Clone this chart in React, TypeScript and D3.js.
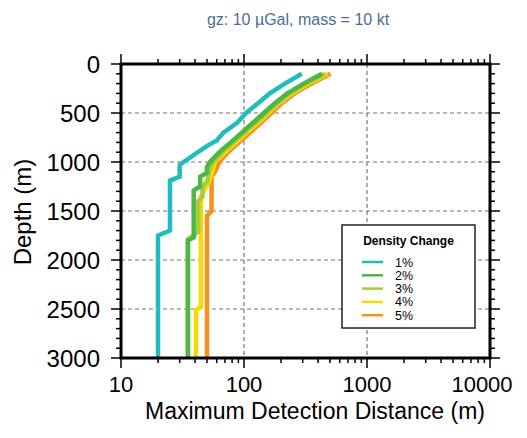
import React from "react";
import * as d3 from "d3";

const title = "gz: 10 \u00b5Gal, mass = 10 kt";
const xTicks = [10, 100, 1000, 10000];
const yTicks = [0, 500, 1000, 1500, 2000, 2500, 3000];
const xGrid = [100, 1000];
const yGrid = [500, 1000, 1500, 2000, 2500];
const seriesNames = ["1%", "2%", "3%", "4%", "5%"];
const seriesColors = ["#22bcc0", "#4cb748", "#a9cb3c", "#f8d904", "#f7901e"];

// [depth (m), max detection distance (m)]
const pct1: [number, number][] = [[100,295],[200,215],[300,162],[400,130],[500,104],[600,88],[700,68],[780,60],[830,51],[910,41],[980,34],[1030,30],[1150,30],[1190,25],[1700,25],[1750,20],[3000,20]];
const pct2: [number, number][] = [[100,430],[200,305],[300,225],[400,178],[500,145],[600,118],[700,96],[800,78],[900,63],[1000,53],[1050,50],[1110,50],[1150,44],[1250,44],[1290,39],[1770,39],[1800,35],[3000,35]];
const pct3: [number, number][] = [[100,455],[200,320],[300,235],[400,186],[500,152],[600,124],[700,100],[800,82],[900,66],[1000,56],[1100,52],[1200,50],[1250,46],[1350,46],[1400,42.5],[1710,42.5],[1790,35],[3000,35]];
const pct4: [number, number][] = [[100,480],[200,335],[300,245],[400,193],[500,158],[600,130],[700,105],[800,86],[900,70],[1000,58],[1100,55],[1200,52],[1280,48],[1350,44.7],[2480,44.7],[2510,40.7],[3000,40.7]];
const pct5: [number, number][] = [[100,505],[200,355],[300,258],[400,203],[500,167],[600,137],[700,112],[800,91],[900,74],[1000,63],[1100,58],[1150,54.5],[1500,54.5],[1550,50],[3000,50]];
const allSeries = [pct1, pct2, pct3, pct4, pct5];

const W = 527, H = 438;
const L = 121, R = 490, T = 64, B = 358;

export default function App() {
  const x = d3.scaleLog().domain([10, 10000]).range([L, R]);
  const y = d3.scaleLinear().domain([0, 3000]).range([T, B]);
  const line = d3.line<[number, number]>().x(d => x(d[1])).y(d => y(d[0]));

  const minorX: number[] = [];
  for (let dec = 10; dec < 10000; dec *= 10) for (let k = 2; k <= 9; k++) minorX.push(dec * k);
  const minorY: number[] = d3.range(100, 3000, 100).filter(v => v % 500 !== 0);

  const font = "'Liberation Sans', Arial, Helvetica, sans-serif";
  const order = [4, 3, 2, 1, 0];

  const legX = 342, legY = 225, legW = 133, legH = 103;

  return (
    <svg width={W} height={H} style={{ position: "absolute", left: 0, top: 0 }} fontFamily={font}>
      <rect x={0} y={0} width={W} height={H} fill="#fff" />
      <text x={298} y={25} textAnchor="middle" fontSize={16} fill="#4a6e96">{title}</text>
      {xGrid.map(v => (
        <line key={"gx" + v} x1={x(v)} x2={x(v)} y1={T} y2={B} stroke="#777" strokeWidth={1.2} strokeDasharray="4,3" />
      ))}
      {yGrid.map(v => (
        <line key={"gy" + v} x1={L} x2={R} y1={y(v)} y2={y(v)} stroke="#777" strokeWidth={1.2} strokeDasharray="4,3" />
      ))}
      <defs>
        <clipPath id="clip"><rect x={L} y={T} width={R - L} height={B - T} /></clipPath>
      </defs>
      <g clipPath="url(#clip)">
        {order.map(i => (
          <path key={i} d={line(allSeries[i]) || ""} fill="none" stroke={seriesColors[i]} strokeWidth={4.5} strokeLinejoin="miter" />
        ))}
      </g>
      {xTicks.map(v => (
        <g key={"xt" + v}>
          <line x1={x(v)} x2={x(v)} y1={B} y2={B + 10} stroke="#000" strokeWidth={1.5} />
          <line x1={x(v)} x2={x(v)} y1={T} y2={T - 10} stroke="#000" strokeWidth={1.5} />
          <text x={v === 10000 ? 482 : x(v)} y={392} textAnchor="middle" fontSize={22}>{v}</text>
        </g>
      ))}
      {minorX.map(v => (
        <g key={"xm" + v}>
          <line x1={x(v)} x2={x(v)} y1={B} y2={B + 5} stroke="#000" strokeWidth={1.5} />
          <line x1={x(v)} x2={x(v)} y1={T} y2={T - 5} stroke="#000" strokeWidth={1.5} />
        </g>
      ))}
      {yTicks.map(v => (
        <g key={"yt" + v}>
          <line x1={L} x2={L - 10} y1={y(v)} y2={y(v)} stroke="#000" strokeWidth={1.5} />
          <line x1={R} x2={R + 10} y1={y(v)} y2={y(v)} stroke="#000" strokeWidth={1.5} />
          <text x={100} y={y(v) + 8.5} textAnchor="end" fontSize={24}>{v}</text>
        </g>
      ))}
      {minorY.map(v => (
        <g key={"ym" + v}>
          <line x1={L} x2={L - 5} y1={y(v)} y2={y(v)} stroke="#000" strokeWidth={1.5} />
          <line x1={R} x2={R + 5} y1={y(v)} y2={y(v)} stroke="#000" strokeWidth={1.5} />
        </g>
      ))}
      <rect x={L} y={T} width={R - L} height={B - T} fill="none" stroke="#000" strokeWidth={3} />
      <text x={315} y={419} textAnchor="middle" fontSize={23}>Maximum Detection Distance (m)</text>
      <text transform={`translate(31,212) rotate(-90)`} textAnchor="middle" fontSize={24}>Depth (m)</text>
      <rect x={legX} y={legY} width={legW} height={legH} fill="#fff" stroke="#222" strokeWidth={1.5} />
      <text x={legX + legW / 2} y={legY + 20} textAnchor="middle" fontSize={12} fontWeight="bold">Density Change</text>
      {seriesNames.map((n, i) => (
        <g key={n}>
          <line x1={362} x2={383} y1={legY + 37 + i * 13.3} y2={legY + 37 + i * 13.3} stroke={seriesColors[i]} strokeWidth={2.5} />
          <text x={395} y={legY + 41.5 + i * 13.3} fontSize={12.5}>{n}</text>
        </g>
      ))}
    </svg>
  );
}
